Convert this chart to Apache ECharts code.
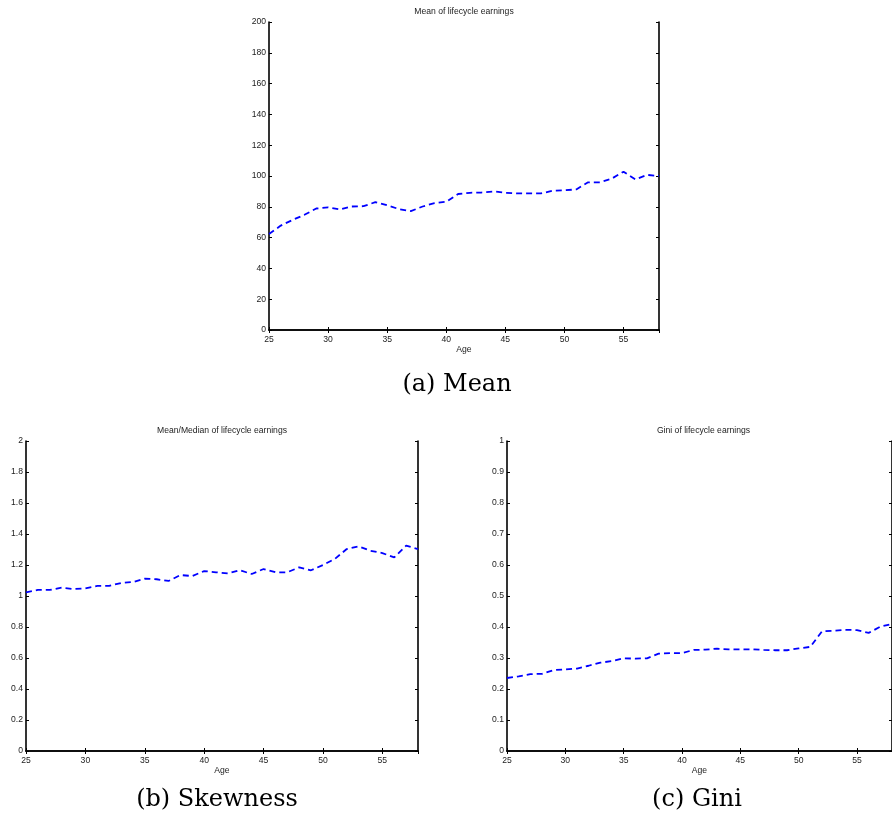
<!DOCTYPE html>
<html>
<head>
<meta charset="utf-8">
<script src="https://cdn.jsdelivr.net/npm/echarts@6/dist/echarts.min.js"></script>
<style>
html,body{margin:0;padding:0;background:#fff;}
#c{width:892px;height:823px;}
</style>
</head>
<body>
<div id="c"></div>
<script>
const ages = [25,26,27,28,29,30,31,32,33,34,35,36,37,38,39,40,41,42,43,44,45,46,47,48,49,50,51,52,53,54,55,56,57,58];
const meanVals = [62.4,67.8,71.5,74.8,78.9,79.6,78.3,80.2,80.4,83.0,81.0,78.5,77.2,80.2,82.4,83.3,88.3,89.1,89.3,90.0,89.1,88.7,88.7,88.7,90.4,90.7,91.3,95.9,95.9,98.3,102.8,97.8,100.7,100.0];
const skewVals = [1.024,1.039,1.039,1.054,1.045,1.049,1.065,1.065,1.084,1.090,1.112,1.108,1.097,1.135,1.129,1.161,1.153,1.146,1.166,1.142,1.174,1.153,1.153,1.185,1.166,1.200,1.239,1.303,1.320,1.292,1.277,1.249,1.325,1.303];
const giniVals = [0.2355,0.241,0.248,0.249,0.261,0.263,0.266,0.275,0.285,0.290,0.299,0.298,0.299,0.314,0.316,0.316,0.326,0.327,0.330,0.328,0.328,0.328,0.326,0.325,0.325,0.331,0.336,0.386,0.388,0.391,0.390,0.381,0.401,0.410];

const titles = ['Mean of lifecycle earnings','Mean/Median of lifecycle earnings','Gini of lifecycle earnings'];
const captions = ['(a) Mean','(b) Skewness','(c) Gini'];
const yMax = [200,2,1];
const yStep = [20,0.2,0.1];
const xLabel = 'Age';

const grids = [
  {left:269, top:22, width:390, height:308},
  {left:26, top:441, width:392, height:310},
  {left:507, top:441, width:393, height:310}
];
const seriesData = [meanVals, skewVals, giniVals];

const lab = {fontFamily:'Liberation Sans, Arial, sans-serif', fontSize:8.6, color:'#222'};
const axisLine = {show:true, lineStyle:{color:'#000', width:1.6}};
const tick = {show:true, inside:true, length:3, lineStyle:{color:'#000', width:1}};

const option = {
  animation:false,
  backgroundColor:'#fff',
  grid: grids.map(g => Object.assign({containLabel:false}, g)),
  xAxis: [],
  yAxis: [],
  series: [],
  title: [],
  graphic: []
};

grids.forEach((g, i) => {
  option.xAxis.push({
    type:'value', gridIndex:i, min:25, max:58, interval:5, position:'bottom',
    axisLine:axisLine, axisTick:tick, splitLine:{show:false},
    axisLabel:Object.assign({margin:5, showMaxLabel:false}, lab),
    name:xLabel, nameLocation:'middle', nameGap:15,
    nameTextStyle:Object.assign({}, lab)
  });
  option.xAxis.push({
    type:'value', gridIndex:i, min:25, max:58, interval:5, position:'top',
    axisLine:axisLine, axisTick:tick, splitLine:{show:false},
    axisLabel:{show:false}
  });
  option.yAxis.push({
    type:'value', gridIndex:i, min:0, max:yMax[i], interval:yStep[i], position:'left',
    axisLine:axisLine, axisTick:tick, splitLine:{show:false},
    axisLabel:Object.assign({margin:3}, lab)
  });
  option.yAxis.push({
    type:'value', gridIndex:i, min:0, max:yMax[i], interval:yStep[i], position:'right',
    axisLine:axisLine, axisTick:tick, splitLine:{show:false},
    axisLabel:{show:false}
  });
  option.series.push({
    type:'line', xAxisIndex:2*i, yAxisIndex:2*i,
    data: ages.map((a, k) => [a, seriesData[i][k]]),
    symbol:'none', clip:true,
    lineStyle:{color:'#0000ff', width:1.8, type:[6,4]}
  });
  option.title.push({
    text:titles[i], left:g.left + g.width/2, top:g.top - 14.5, textAlign:'center', padding:0,
    textStyle:Object.assign({fontWeight:'normal'}, lab)
  });
});

const capPos = [[457,385],[217,800],[697,800]];
captions.forEach((c, i) => {
  option.graphic.push({
    type:'text', x:capPos[i][0], y:capPos[i][1],
    style:{text:c, font:'24px "DejaVu Serif", serif', fill:'#000', textAlign:'center', textVerticalAlign:'middle'}
  });
});

const chart = echarts.init(document.getElementById('c'), null, {renderer:'canvas'});
chart.setOption(option);
</script>
</body>
</html>
